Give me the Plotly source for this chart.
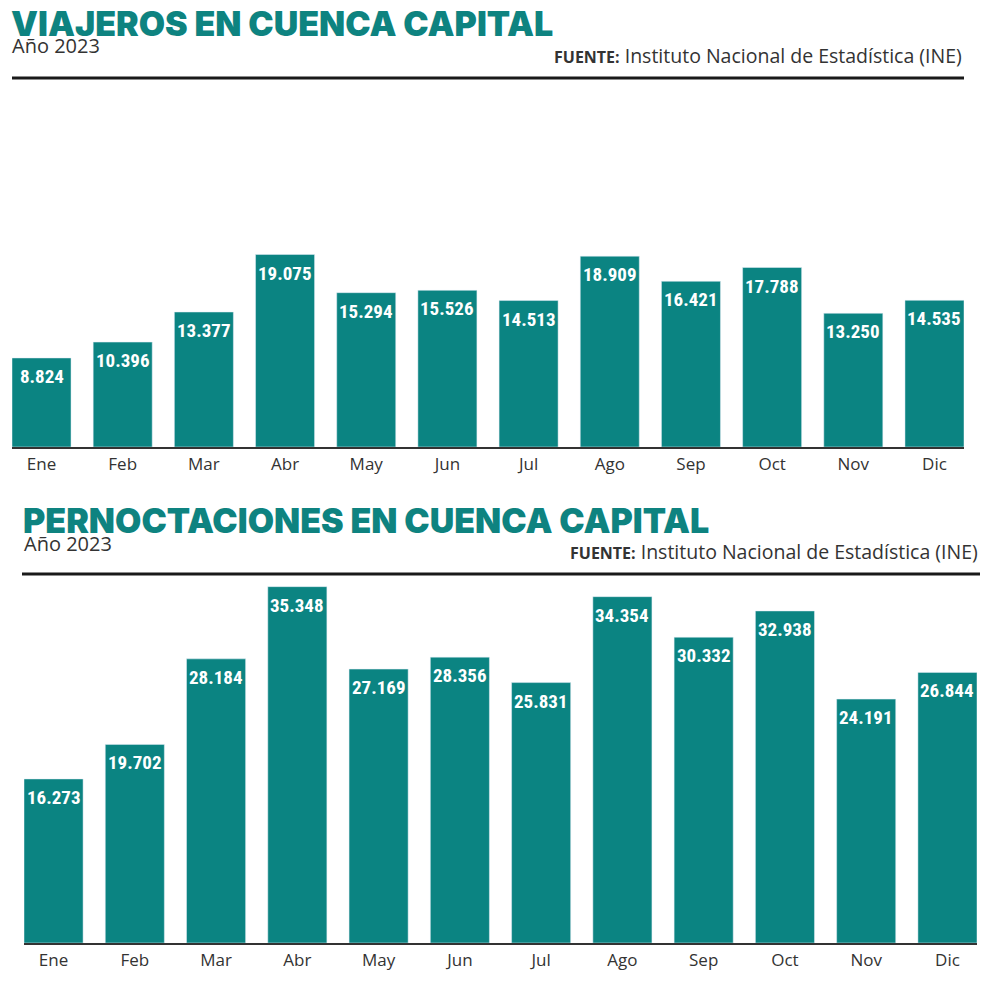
import plotly.graph_objects as go

months = ["Ene", "Feb", "Mar", "Abr", "May", "Jun", "Jul", "Ago", "Sep", "Oct", "Nov", "Dic"]
viajeros = [8824, 10396, 13377, 19075, 15294, 15526, 14513, 18909, 16421, 17788, 13250, 14535]
pernoctaciones = [16273, 19702, 28184, 35348, 27169, 28356, 25831, 34354, 30332, 32938, 24191, 26844]

title_top = "VIAJEROS EN CUENCA CAPITAL"
title_bottom = "PERNOCTACIONES EN CUENCA CAPITAL"
subtitle = "Año 2023"
source = ('<span style="font-size:16px"><b>FUENTE:</b></span> '
          'Instituto Nacional de Estadística (INE)')

TEAL = "#0b8482"
OFF = 8  # page body margin
W, H = 1000 - OFF, 983 - OFF


def fmt(v):
    return f"{v:,}".replace(",", ".")


def py(px):
    return 1 - (px - OFF) / H


def pxx(px):
    return (px - OFF) / W


fig = go.Figure()
fig.add_trace(go.Bar(x=months, y=viajeros, marker_color=TEAL, xaxis="x", yaxis="y",
                     hoverinfo="skip", showlegend=False))
fig.add_trace(go.Bar(x=months, y=pernoctaciones, marker_color=TEAL, xaxis="x2", yaxis="y2",
                     hoverinfo="skip", showlegend=False))

bargap = 0.273
xr = [-0.5 + bargap / 2, 11.5 - bargap / 2]
tickfont = dict(family="Open Sans, Lato, sans-serif", size=17, color="#333333")

annotations = []
for ax, data in (("", viajeros), ("2", pernoctaciones)):
    for m, v in zip(months, data):
        annotations.append(dict(
            x=m, y=v, xref="x" + ax, yref="y" + ax, text=fmt(v), showarrow=False,
            yanchor="top", xanchor="center", yshift=-5,
            font=dict(family="Roboto Condensed, Liberation Sans Narrow, Roboto, sans-serif",
                      size=19, color="white", weight="bold")))

title_font = dict(family="Inter, Open Sans, sans-serif", size=34, color="#0e8380", weight=900)
sub_font = dict(family="Open Sans, Lato, sans-serif", size=20, color="#333333", weight=400)
src_font = dict(family="Open Sans, Lato, sans-serif", size=19.5, color="#333333")

for (x0, x1, ty, sy, srcy, ttl) in ((12, 964, 24, 46, 55, title_top),
                                     (24, 980, 520, 543, 551, title_bottom)):
    annotations.append(dict(x=pxx(x0 - 2), y=py(ty), xref="paper", yref="paper", text=ttl,
                            showarrow=False, xanchor="left", yanchor="middle", font=title_font,
                            borderpad=0))
    annotations.append(dict(x=pxx(x0 - 2), y=py(sy), xref="paper", yref="paper", text=subtitle,
                            showarrow=False, xanchor="left", yanchor="middle", font=sub_font))
    annotations.append(dict(x=pxx(x1), y=py(srcy), xref="paper", yref="paper", text=source,
                            showarrow=False, xanchor="right", yanchor="middle", font=src_font))

shapes = [
    dict(type="line", xref="paper", yref="paper", x0=pxx(12), x1=pxx(964), y0=py(78), y1=py(78),
         line=dict(color="#1a1a1a", width=3)),
    dict(type="line", xref="paper", yref="paper", x0=pxx(22), x1=pxx(980), y0=py(574), y1=py(574),
         line=dict(color="#1a1a1a", width=3)),
]

fig.update_layout(
    width=W, height=H, margin=dict(l=0, r=0, t=0, b=0),
    paper_bgcolor="white", plot_bgcolor="white",
    bargap=bargap,
    xaxis=dict(domain=[pxx(12), pxx(964)], range=xr, showline=True, linecolor="#333333", linewidth=1.5,
               ticks="", tickfont=tickfont, ticklabelstandoff=1, showgrid=False, fixedrange=True),
    yaxis=dict(domain=[py(447), py(89.8)], range=[0, 35400], visible=False, showgrid=False),
    xaxis2=dict(domain=[pxx(24), pxx(977)], range=xr, showline=True, linecolor="#333333", linewidth=1.5,
                ticks="", tickfont=tickfont, ticklabelstandoff=1, showgrid=False, anchor="y2"),
    yaxis2=dict(domain=[py(943), py(583.1)], range=[0, 35700], visible=False, showgrid=False, anchor="x2"),
    annotations=annotations, shapes=shapes,
)

fig.write_html("out.html")
